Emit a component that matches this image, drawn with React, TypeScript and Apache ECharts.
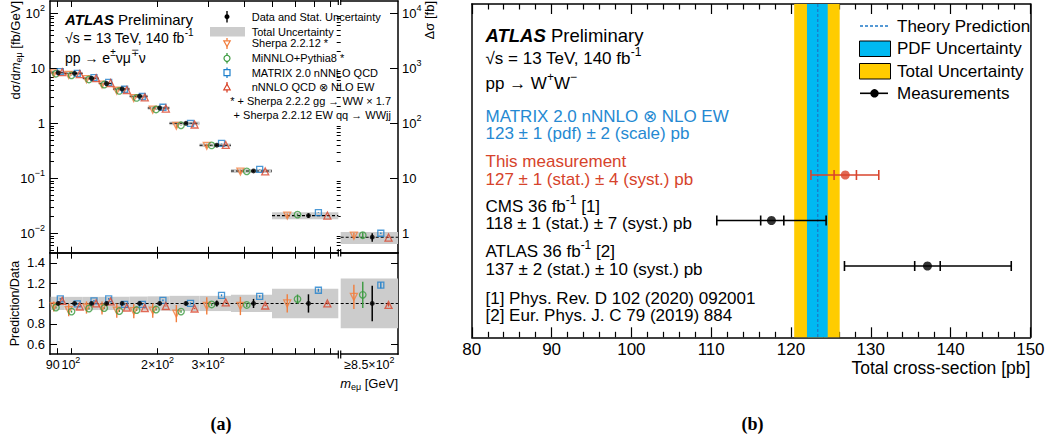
import React, { useEffect, useRef } from "react";
import * as echarts from "echarts";

const FONT = "'Liberation Sans', Arial, Helvetica, sans-serif";
const SERIF = "'Liberation Serif', 'Times New Roman', serif";

// ===== Panel (a): differential cross-section vs m_eμ =====
const binEdges = [85, 95, 110, 125, 140, 160, 185, 220, 280, 360, 500, 850]; // GeV
const dataXsec = [8.3, 8.1, 6.6, 5.3, 4.2, 3.1, 1.9, 1.0, 0.4, 0.136, 0.021]; // fb/GeV
const overflowXsec = 0.85; // fb, m_eμ >= 850 GeV (right axis)
const dataStatRel = [0.012, 0.012, 0.012, 0.012, 0.012, 0.015, 0.018, 0.02, 0.03, 0.045, 0.09, 0.175];
const totalUncRel = [0.065, 0.065, 0.065, 0.065, 0.065, 0.068, 0.07, 0.075, 0.075, 0.085, 0.145, 0.245];

const ratioSherpa = [0.97, 0.935, 0.96, 0.955, 0.93, 0.925, 0.93, 0.9, 0.975, 0.975, 1.0, 1.065];
const errSherpa = [0.05, 0.06, 0.06, 0.065, 0.07, 0.07, 0.07, 0.085, 0.085, 0.09, 0.09, 0.12];
const ratioMinnlo = [0.96, 0.92, 0.95, 0.955, 0.925, 0.935, 0.94, 0.92, 0.99, 0.985, 1.043, 1.085];
const errMinnlo = [0.01, 0.01, 0.01, 0.01, 0.01, 0.01, 0.01, 0.012, 0.015, 0.02, 0.045, 0.13];
const ratioMatrix = [1.045, 0.995, 1.025, 1.045, 0.99, 0.99, 1.03, 1.0, 1.08, 1.07, 1.13, 1.18];
const errMatrix = [0.008, 0.008, 0.008, 0.008, 0.008, 0.008, 0.008, 0.01, 0.01, 0.01, 0.015, 0.03];
const ratioNnlo = [1.025, 0.97, 1.0, 1.02, 0.96, 0.955, 0.975, 0.95, 1.01, 0.98, 1.0, 0.985];
const errNnlo = [0.005, 0.005, 0.005, 0.005, 0.005, 0.005, 0.005, 0.006, 0.006, 0.008, 0.01, 0.015];

const xLabelValues = [100, 200, 300];
const xLabelLow = [90];
const xTickValues = [90, 100, 200, 300, 400, 500, 600, 700, 800];
const ratioTickValues = [0.6, 0.8, 1, 1.2, 1.4];
const logMajorLeft = [0.01, 0.1, 1, 10, 100];
const logMajorRight = [1, 10, 100, 1000, 10000];

// ===== Panel (b): total cross-section =====
const theoryCentral = 123.35;
const pdfBand = [122.0, 124.6];
const totalBand = [120.4, 126.1];
const measCentral = [126.8, 117.55, 137.1];
const measStat = [[125.4, 128.2], [116.2, 119.1], [135.5, 138.7]];
const measTotal = [[122.5, 131.0], [110.7, 124.4], [126.7, 147.6]];
const measRow = [3, 2, 1];
const measColors = ["#d9442c", "#000000", "#000000"];

// ===== layout / style =====
const C_ORANGE = "#f27d3c";
const C_GREEN = "#3a9a3e";
const C_BLUE = "#1f80cc";
const C_RED = "#d9442a";
const C_GREY = "#cccccc";
const C_YELLOW = "#ffcc00";
const C_CYAN = "#00b9f1";
const C_THEORY = "#1e78c8";
const C_TXTBLUE = "#2589d2";
const C_TXTRED = "#d6432b";

const models = [
  { color: C_ORANGE, symbol: "triangle", rotate: 180, ratio: ratioSherpa, err: errSherpa, frac: 0.23, size: 7 },
  { color: C_GREEN, symbol: "circle", rotate: 0, ratio: ratioMinnlo, err: errMinnlo, frac: 0.385, size: 6.5 },
  { color: C_BLUE, symbol: "rect", rotate: 0, ratio: ratioMatrix, err: errMatrix, frac: 0.7, size: 6 },
  { color: C_RED, symbol: "triangle", rotate: 0, ratio: ratioNnlo, err: errNnlo, frac: 0.835, size: 7 },
];
const dataFrac = 0.55;

const yMinL = 0.00444;
const yMaxL = 167.3;
const rightScale = 100;

const pos = (i: number, f: number) => binEdges[i] * Math.pow(binEdges[i + 1] / binEdges[i], f);

function minorLog(min: number, max: number) {
  const out: number[] = [];
  for (let e = -4; e <= 5; e++) {
    for (let k = 2; k <= 9; k++) {
      const v = k * Math.pow(10, e);
      if (v > min && v < max) out.push(v);
    }
  }
  return out;
}

const supRich = (fs: number, color = "#000") => {
  const hs = Math.max(1, Math.round(fs * 0.24));
  const hb = Math.max(1, Math.round(fs * 0.42));
  return {
    sup: { fontSize: Math.round(fs * 0.68), verticalAlign: "top", height: hs, lineHeight: hs, fontFamily: FONT, color },
    sub: { fontSize: Math.round(fs * 0.68), verticalAlign: "bottom", height: hb, lineHeight: hb, fontFamily: FONT, color },
    it: { fontStyle: "italic", fontSize: fs, fontFamily: FONT, color, lineHeight: Math.round(fs) },
    b: { fontStyle: "italic", fontWeight: "bold", fontSize: fs, fontFamily: FONT, color, lineHeight: Math.round(fs) },
    l: { fontSize: fs, fontFamily: FONT, color, padding: [0, 10, 0, 0], lineHeight: Math.round(fs) },
  };
};

function txt(x: number, y: number, text: string, fs: number, o: any = {}) {
  const color = o.color || "#000";
  const align = o.align || "left";
  const va = o.va || "middle";
  return {
    type: "text",
    x,
    y,
    rotation: o.rotation || 0,
    silent: true,
    z: 100,
    style: {
      text,
      fill: color,
      fontSize: fs,
      fontFamily: o.family || FONT,
      fontWeight: o.weight || "normal",
      align,
      verticalAlign: va,
      textAlign: align,
      textVerticalAlign: va,
      lineHeight: Math.round(fs),
      rich: supRich(fs, color),
    },
  };
}

const powLabel = (v: number) => {
  const e = Math.round(Math.log10(v));
  if (e === 0) return "1";
  if (e === 1) return "10";
  return "10{sup|" + (e < 0 ? "\u2212" + -e : String(e)) + "}";
};

const axLine = { show: true, onZero: false, lineStyle: { color: "#000", width: 1.5 } };
const noLine = { show: false };
const noLabel = { show: false };
const noSplit = { show: false };

function bandRender(fill: string) {
  return (p: any, api: any) => {
    const a = api.coord([api.value(0), api.value(3)]);
    const b = api.coord([api.value(1), api.value(2)]);
    return { type: "rect", shape: { x: a[0], y: a[1], width: b[0] - a[0], height: b[1] - a[1] }, style: { fill } };
  };
}
function hDashRender(p: any, api: any) {
  const a = api.coord([api.value(0), api.value(2)]);
  const b = api.coord([api.value(1), api.value(2)]);
  return { type: "line", shape: { x1: a[0], y1: a[1], x2: b[0], y2: b[1] }, style: { stroke: "#000", lineWidth: 1.1, lineDash: [3, 2] } };
}
function vBarRender(color: string, w: number) {
  return (p: any, api: any) => {
    const a = api.coord([api.value(0), api.value(1)]);
    const b = api.coord([api.value(0), api.value(2)]);
    return { type: "line", shape: { x1: a[0], y1: a[1], x2: b[0], y2: b[1] }, style: { stroke: color, lineWidth: w } };
  };
}

function bandSeries(xi: number, yi: number, items: number[][]) {
  return { type: "custom", xAxisIndex: xi, yAxisIndex: yi, silent: true, z: 1, encode: { x: [0, 1], y: [2, 3] }, data: items, renderItem: bandRender(C_GREY) };
}
function dashSeries(xi: number, yi: number, items: number[][]) {
  return { type: "custom", xAxisIndex: xi, yAxisIndex: yi, silent: true, z: 2, encode: { x: [0, 1], y: 2 }, data: items, renderItem: hDashRender };
}
function barSeries(xi: number, yi: number, items: number[][], color: string, w: number) {
  return { type: "custom", xAxisIndex: xi, yAxisIndex: yi, silent: true, z: 3, encode: { x: 0, y: [1, 2] }, data: items, renderItem: vBarRender(color, w) };
}
function markerSeries(xi: number, yi: number, items: number[][], m: any, filled = false) {
  return {
    type: "scatter",
    xAxisIndex: xi,
    yAxisIndex: yi,
    silent: true,
    z: 4,
    symbol: m.symbol,
    symbolSize: m.size,
    symbolRotate: m.rotate,
    data: items,
    emphasis: { disabled: true },
    itemStyle: filled ? { color: m.color } : { color: "rgba(0,0,0,0)", borderColor: m.color, borderWidth: 1.3 },
  };
}

function buildOption() {
  const nMain = dataXsec.length;
  const OV = nMain; // overflow index in 12-long arrays
  const series: any[] = [];

  // grey total-uncertainty bands
  series.push(bandSeries(0, 0, dataXsec.map((d, i) => [binEdges[i], binEdges[i + 1], d * (1 - totalUncRel[i]), d * (1 + totalUncRel[i])])));
  series.push(bandSeries(2, 2, [[0, 1, overflowXsec * (1 - totalUncRel[OV]), overflowXsec * (1 + totalUncRel[OV])]]));
  series.push(bandSeries(4, 4, dataXsec.map((d, i) => [binEdges[i], binEdges[i + 1], 1 - totalUncRel[i], 1 + totalUncRel[i]])));
  series.push(bandSeries(6, 5, [[0, 1, 1 - totalUncRel[OV], 1 + totalUncRel[OV]]]));

  // dashed data lines
  series.push(dashSeries(0, 0, dataXsec.map((d, i) => [binEdges[i], binEdges[i + 1], d])));
  series.push(dashSeries(2, 2, [[0, 1, overflowXsec]]));
  series.push(dashSeries(4, 4, [[binEdges[0], binEdges[nMain], 1]]));
  series.push(dashSeries(6, 5, [[0, 1, 1]]));

  // predictions
  models.forEach((m) => {
    const f = m.frac;
    const topPts = dataXsec.map((d, i) => [pos(i, f), d * m.ratio[i]]);
    const topBars = dataXsec.map((d, i) => [pos(i, f), d * m.ratio[i] * (1 - m.err[i]), d * m.ratio[i] * (1 + m.err[i])]);
    const ov = overflowXsec * m.ratio[OV];
    series.push(barSeries(0, 0, topBars, m.color, 1.4));
    series.push(markerSeries(0, 0, topPts, m));
    series.push(barSeries(2, 2, [[f, ov * (1 - m.err[OV]), ov * (1 + m.err[OV])]], m.color, 1.4));
    series.push(markerSeries(2, 2, [[f, ov]], m));
    const rPts = dataXsec.map((d, i) => [pos(i, f), m.ratio[i]]);
    const rBars = dataXsec.map((d, i) => [pos(i, f), m.ratio[i] - m.err[i], m.ratio[i] + m.err[i]]);
    series.push(barSeries(4, 4, rBars, m.color, 1.4));
    series.push(markerSeries(4, 4, rPts, m));
    series.push(barSeries(6, 5, [[f, m.ratio[OV] - m.err[OV], m.ratio[OV] + m.err[OV]]], m.color, 1.4));
    series.push(markerSeries(6, 5, [[f, m.ratio[OV]]], m));
  });

  // data
  const dm = { color: "#000", symbol: "circle", rotate: 0, size: 5 };
  series.push(barSeries(0, 0, dataXsec.map((d, i) => [pos(i, dataFrac), d * (1 - dataStatRel[i]), d * (1 + dataStatRel[i])]), "#000", 1.5));
  series.push(markerSeries(0, 0, dataXsec.map((d, i) => [pos(i, dataFrac), d]), dm, true));
  series.push(barSeries(2, 2, [[dataFrac, overflowXsec * (1 - dataStatRel[OV]), overflowXsec * (1 + dataStatRel[OV])]], "#000", 1.5));
  series.push(markerSeries(2, 2, [[dataFrac, overflowXsec]], dm, true));
  series.push(barSeries(4, 4, dataXsec.map((d, i) => [pos(i, dataFrac), 1 - dataStatRel[i], 1 + dataStatRel[i]]), "#000", 1.5));
  series.push(markerSeries(4, 4, dataXsec.map((d, i) => [pos(i, dataFrac), 1]), dm, true));
  series.push(barSeries(6, 5, [[dataFrac, 1 - dataStatRel[OV], 1 + dataStatRel[OV]]], "#000", 1.5));
  series.push(markerSeries(6, 5, [[dataFrac, 1]], dm, true));

  // ===== panel (b) series =====
  const fullBand = (fill: string) => (p: any, api: any) => {
    const cs = p.coordSys;
    const a = api.coord([api.value(0), 0])[0];
    const b = api.coord([api.value(1), 0])[0];
    return { type: "rect", shape: { x: a, y: cs.y, width: b - a, height: cs.height }, style: { fill } };
  };
  series.push({ type: "custom", xAxisIndex: 8, yAxisIndex: 6, silent: true, z: 1, encode: { x: [0, 1], y: 2 }, data: [[totalBand[0], totalBand[1], 0]], renderItem: fullBand(C_YELLOW) });
  series.push({ type: "custom", xAxisIndex: 8, yAxisIndex: 6, silent: true, z: 2, encode: { x: [0, 1], y: 2 }, data: [[pdfBand[0], pdfBand[1], 0]], renderItem: fullBand(C_CYAN) });
  series.push({
    type: "custom", xAxisIndex: 8, yAxisIndex: 6, silent: true, z: 3, encode: { x: 0, y: 1 }, data: [[theoryCentral, 0]],
    renderItem: (p: any, api: any) => {
      const cs = p.coordSys;
      const x = api.coord([api.value(0), 0])[0];
      return { type: "line", shape: { x1: x, y1: cs.y, x2: x, y2: cs.y + cs.height }, style: { stroke: C_THEORY, lineWidth: 1.3, lineDash: [3, 2] } };
    },
  });
  series.push({
    type: "custom", xAxisIndex: 8, yAxisIndex: 6, silent: true, z: 4, encode: { x: [0, 1, 2, 3], y: 4 },
    data: measRow.map((r, i) => [measTotal[i][0], measTotal[i][1], measStat[i][0], measStat[i][1], r]),
    renderItem: (p: any, api: any) => {
      const color = measColors[p.dataIndex];
      const r = api.value(4);
      const y = api.coord([api.value(0), r])[1];
      const xs = [0, 1, 2, 3].map((k) => api.coord([api.value(k), r])[0]);
      const st = { stroke: color, lineWidth: 1.6 };
      const cap = 5;
      const children: any[] = [{ type: "line", shape: { x1: xs[0], y1: y, x2: xs[1], y2: y }, style: st }];
      xs.forEach((x) => children.push({ type: "line", shape: { x1: x, y1: y - cap, x2: x, y2: y + cap }, style: st }));
      return { type: "group", children };
    },
  });
  series.push({
    type: "scatter", xAxisIndex: 8, yAxisIndex: 6, silent: true, z: 5, symbol: "circle", symbolSize: 9,
    emphasis: { disabled: true },
    data: measRow.map((r, i) => ({ value: [measCentral[i], r], itemStyle: { color: measColors[i] } })),
  });

  const minorLeft = minorLog(yMinL, yMaxL);
  const minorRight = minorLog(yMinL * rightScale, yMaxL * rightScale);
  const axisLabelBase = { color: "#000", fontFamily: FONT };

  const xAxis: any[] = [
    // 0: top main bottom
    { type: "log", gridIndex: 0, position: "bottom", min: 84.6, max: 850, axisLine: axLine, splitLine: noSplit, axisLabel: noLabel,
      axisTick: { show: true, inside: true, length: 6, customValues: xTickValues, lineStyle: { color: "#000" } } },
    // 1: top main top
    { type: "log", gridIndex: 0, position: "top", min: 84.6, max: 850, axisLine: axLine, splitLine: noSplit, axisLabel: noLabel,
      axisTick: { show: true, inside: true, length: 6, customValues: xTickValues, lineStyle: { color: "#000" } } },
    // 2: top overflow bottom
    { type: "value", gridIndex: 1, position: "bottom", min: 0, max: 1, axisLine: axLine, splitLine: noSplit, axisLabel: noLabel, axisTick: { show: false } },
    // 3: top overflow top
    { type: "value", gridIndex: 1, position: "top", min: 0, max: 1, axisLine: axLine, splitLine: noSplit, axisLabel: noLabel, axisTick: { show: false } },
    // 4: ratio main bottom
    { type: "log", gridIndex: 2, position: "bottom", min: 84.6, max: 850, axisLine: axLine, splitLine: noSplit,
      axisTick: { show: true, inside: true, length: 6, customValues: xTickValues, lineStyle: { color: "#000" } },
      axisLabel: { ...axisLabelBase, show: true, customValues: xLabelValues, fontSize: 12.5, margin: 4, lineHeight: 13, rich: supRich(12.5),
        showMinLabel: true, showMaxLabel: true,
        formatter: (v: number) => {
          const e = Math.floor(Math.log10(v) + 1e-9);
          const mant = Math.round(v / Math.pow(10, e));
          return (mant === 1 ? "" : mant + "\u00d7") + "10{sup|" + e + "}";
        } } },
    // 5: ratio main top
    { type: "log", gridIndex: 2, position: "top", min: 84.6, max: 850, axisLine: axLine, splitLine: noSplit, axisLabel: noLabel,
      axisTick: { show: true, inside: true, length: 6, customValues: xTickValues, lineStyle: { color: "#000" } } },
    // 6: ratio overflow bottom
    { type: "value", gridIndex: 3, position: "bottom", min: 0, max: 1, axisLine: axLine, splitLine: noSplit, axisTick: { show: false },
      axisLabel: { ...axisLabelBase, show: true, customValues: [0.5], fontSize: 12.5, margin: 4, lineHeight: 13, rich: supRich(12.5),
        showMinLabel: true, showMaxLabel: true,
        formatter: () => "\u22658.5\u00d710{sup|2}" } },
    // 7: ratio overflow top
    { type: "value", gridIndex: 3, position: "top", min: 0, max: 1, axisLine: axLine, splitLine: noSplit, axisLabel: noLabel, axisTick: { show: false } },
    // 8: panel b bottom
    { type: "value", gridIndex: 4, position: "bottom", min: 80, max: 150, interval: 10, axisLine: axLine, splitLine: noSplit, minorSplitLine: noSplit,
      axisTick: { show: true, inside: true, length: 10, lineStyle: { color: "#000", width: 1.2 } },
      minorTick: { show: true, splitNumber: 5, length: 5.5, lineStyle: { color: "#000", width: 1.2 } },
      axisLabel: { ...axisLabelBase, show: true, fontSize: 17, margin: 4 } },
    // 9: panel b top
    { type: "value", gridIndex: 4, position: "top", min: 80, max: 150, interval: 10, axisLine: axLine, splitLine: noSplit, minorSplitLine: noSplit, axisLabel: noLabel,
      axisTick: { show: true, inside: true, length: 10, lineStyle: { color: "#000", width: 1.2 } },
      minorTick: { show: true, splitNumber: 5, length: 5.5, lineStyle: { color: "#000", width: 1.2 } } },
    // 10: ratio main bottom, label for 90 only
    { type: "log", gridIndex: 2, position: "bottom", min: 84.6, max: 850, axisLine: noLine, splitLine: noSplit, axisTick: { show: false },
      axisLabel: { ...axisLabelBase, show: true, customValues: xLabelLow, fontSize: 12.5, margin: 4, lineHeight: 13, rich: supRich(12.5),
        showMinLabel: true, formatter: (v: number) => "{l|" + String(Math.round(v)) + "}" } },
  ];

  const yAxis: any[] = [
    // 0: top left log major + labels
    { type: "log", gridIndex: 0, position: "left", min: yMinL, max: yMaxL, axisLine: axLine, splitLine: noSplit,
      axisTick: { show: true, inside: true, length: 8, customValues: logMajorLeft, lineStyle: { color: "#000" } },
      axisLabel: { ...axisLabelBase, show: true, customValues: logMajorLeft, fontSize: 13, margin: 5, lineHeight: 13, rich: supRich(13), formatter: powLabel } },
    // 1: top left minor ticks
    { type: "log", gridIndex: 0, position: "left", min: yMinL, max: yMaxL, axisLine: noLine, splitLine: noSplit, axisLabel: noLabel,
      axisTick: { show: true, inside: true, length: 4, customValues: minorLeft, lineStyle: { color: "#000" } } },
    // 2: top right log (Δσ) major + labels
    { type: "log", gridIndex: 1, position: "right", min: yMinL * rightScale, max: yMaxL * rightScale, axisLine: axLine, splitLine: noSplit,
      axisTick: { show: true, inside: true, length: 8, customValues: logMajorRight, lineStyle: { color: "#000" } },
      axisLabel: { ...axisLabelBase, show: true, customValues: logMajorRight, fontSize: 13, margin: 4, lineHeight: 13, rich: supRich(13), formatter: powLabel } },
    // 3: top right minor
    { type: "log", gridIndex: 1, position: "right", min: yMinL * rightScale, max: yMaxL * rightScale, axisLine: noLine, splitLine: noSplit, axisLabel: noLabel,
      axisTick: { show: true, inside: true, length: 4, customValues: minorRight, lineStyle: { color: "#000" } } },
    // 4: ratio left
    { type: "value", gridIndex: 2, position: "left", min: 0.5, max: 1.5, axisLine: axLine, splitLine: noSplit,
      axisTick: { show: true, inside: true, length: 7, customValues: ratioTickValues, lineStyle: { color: "#000" } },
      axisLabel: { ...axisLabelBase, show: true, customValues: ratioTickValues, fontSize: 13, margin: 5, formatter: (v: number) => String(v) } },
    // 5: ratio right (overflow)
    { type: "value", gridIndex: 3, position: "right", min: 0.5, max: 1.5, axisLine: axLine, splitLine: noSplit, axisLabel: noLabel,
      axisTick: { show: true, inside: true, length: 7, customValues: ratioTickValues, lineStyle: { color: "#000" } } },
    // 6: panel b left
    { type: "value", gridIndex: 4, position: "left", min: -0.567, max: 6.758, axisLine: axLine, splitLine: noSplit, axisLabel: noLabel, axisTick: { show: false } },
    // 7: panel b right
    { type: "value", gridIndex: 4, position: "right", min: -0.567, max: 6.758, axisLine: axLine, splitLine: noSplit, axisLabel: noLabel, axisTick: { show: false } },
  ];

  const gridBase = { containLabel: false, outerBoundsMode: "none" };
  const grid = [
    { ...gridBase, left: 50, top: 1, width: 288.3, height: 251.7 },
    { ...gridBase, left: 340.7, top: 1, width: 57.3, height: 251.7 },
    { ...gridBase, left: 50, top: 252.7, width: 288.3, height: 101.5 },
    { ...gridBase, left: 340.7, top: 252.7, width: 57.3, height: 101.5 },
    { ...gridBase, left: 471.8, top: 4, width: 558.6, height: 333.3 },
  ];

  const ln = (x1: number, y1: number, x2: number, y2: number, stroke: string, w = 1.3, dash: any = null) => ({
    type: "line", silent: true, z: 100, shape: { x1, y1, x2, y2 }, style: { stroke, lineWidth: w, lineDash: dash },
  });

  const graphic: any[] = [
    // break marks
    ln(338.3, -2, 338.3, 5, "#000", 1.2), ln(340.7, -2, 340.7, 5, "#000", 1.2),
    ln(338.3, 249, 338.3, 256.5, "#000", 1.2), ln(340.7, 249, 340.7, 256.5, "#000", 1.2),
    ln(338.3, 350.5, 338.3, 358.5, "#000", 1.2), ln(340.7, 350.5, 340.7, 358.5, "#000", 1.2),
    // panel (a) texts
    txt(65, 19, "{b|ATLAS} Preliminary", 15),
    txt(65, 37.5, "\u221As = 13 TeV, 140 fb{sup|-1}", 14),
    txt(65, 57.5, "pp \u2192 e{sup|\u00b1}\u03bd\u03bc{sup|\u2213}\u03bd", 14),
    // panel (a) legend
    ln(227, 11, 227, 22.5, "#000", 1.4),
    { type: "circle", silent: true, z: 100, shape: { cx: 227, cy: 16.7, r: 2.5 }, style: { fill: "#000" } },
    txt(251.7, 16.7, "Data and Stat. Uncertainty", 11),
    { type: "rect", silent: true, z: 100, shape: { x: 210, y: 27, width: 35, height: 9.5 }, style: { fill: C_GREY } },
    txt(251.7, 31.7, "Total Uncertainty", 11),
    ln(227, 38, 227, 49, C_ORANGE, 1.3),
    { type: "polygon", silent: true, z: 100, shape: { points: [[223.8, 40.8], [230.2, 40.8], [227, 46.5]] }, style: { fill: "#fff", stroke: C_ORANGE, lineWidth: 1.2 } },
    txt(251.7, 43.3, "Sherpa 2.2.12 *", 11),
    ln(227, 53, 227, 63.5, C_GREEN, 1.3),
    { type: "circle", silent: true, z: 100, shape: { cx: 227, cy: 58.3, r: 3 }, style: { fill: "#fff", stroke: C_GREEN, lineWidth: 1.2 } },
    txt(251.7, 58.3, "MiNNLO+Pythia8 *", 11),
    ln(227, 67.5, 227, 78, C_BLUE, 1.3),
    { type: "rect", silent: true, z: 100, shape: { x: 224, y: 69.7, width: 6, height: 6 }, style: { fill: "#fff", stroke: C_BLUE, lineWidth: 1.2 } },
    txt(251.7, 72.7, "MATRIX 2.0 nNNLO QCD", 11),
    ln(227, 82, 227, 92.5, C_RED, 1.3),
    { type: "polygon", silent: true, z: 100, shape: { points: [[223.8, 89.8], [230.2, 89.8], [227, 84.2]] }, style: { fill: "#fff", stroke: C_RED, lineWidth: 1.2 } },
    txt(251.7, 87.3, "nNNLO QCD \u2297 NLO EW", 11),
    txt(391, 100.7, "* + Sherpa 2.2.2 gg \u2192 WW \u00d7 1.7", 11, { align: "right" }),
    txt(391, 115, "+ Sherpa 2.2.12 EW qq \u2192 WWjj", 11, { align: "right" }),
    // panel (a) axis titles
    txt(15, 1, "d\u03c3/d{it|m}{sub|e\u03bc} [fb/GeV]", 13, { align: "right", rotation: Math.PI / 2 }),
    txt(15, 303.5, "Prediction/Data", 12.5, { align: "center", rotation: Math.PI / 2 }),
    txt(429, 1, "\u0394\u03c3 [fb]", 13, { align: "right", rotation: Math.PI / 2 }),
    txt(398, 383, "{it|m}{sub|e\u03bc} [GeV]", 13, { align: "right" }),
    txt(221, 424, "(a)", 18, { align: "center", weight: "bold", family: SERIF }),
    txt(752.5, 424, "(b)", 18, { align: "center", weight: "bold", family: SERIF }),
    // panel (b) texts
    txt(485.5, 35, "{b|ATLAS} Preliminary", 18.5),
    txt(485.5, 58.3, "\u221As = 13 TeV, 140 fb{sup|-1}", 17),
    txt(485.5, 83.3, "pp \u2192 W{sup|+}W{sup|\u2212}", 17),
    txt(485.5, 116.3, "MATRIX 2.0 nNNLO \u2297 NLO EW", 17, { color: C_TXTBLUE }),
    txt(485.5, 133.5, "123 \u00b1 1 (pdf) \u00b1 2 (scale) pb", 17, { color: C_TXTBLUE }),
    txt(485.5, 161.3, "This measurement", 17, { color: C_TXTRED }),
    txt(485.5, 179, "127 \u00b1 1 (stat.) \u00b1 4 (syst.) pb", 17, { color: C_TXTRED }),
    txt(485.5, 206.3, "CMS 36 fb{sup|-1} [1]", 17),
    txt(485.5, 223.5, "118 \u00b1 1 (stat.) \u00b1 7 (syst.) pb", 17),
    txt(485.5, 251.5, "ATLAS 36 fb{sup|-1} [2]", 17),
    txt(485.5, 269.3, "137 \u00b1 2 (stat.) \u00b1 10 (syst.) pb", 17),
    txt(485.5, 298.2, "[1] Phys. Rev. D 102 (2020) 092001", 17),
    txt(485.5, 315.4, "[2] Eur. Phys. J. C 79 (2019) 884", 17),
    txt(1030.4, 368.3, "Total cross-section [pb]", 17.5, { align: "right" }),
    // panel (b) legend
    ln(860, 26, 888, 26, C_THEORY, 1.5, [3, 2]),
    txt(897, 26, "Theory Prediction", 17),
    { type: "rect", silent: true, z: 100, shape: { x: 859.5, y: 41, width: 31, height: 15.5 }, style: { fill: C_CYAN, stroke: "#000", lineWidth: 1 } },
    txt(897, 48.5, "PDF Uncertainty", 17),
    { type: "rect", silent: true, z: 100, shape: { x: 859.5, y: 63.5, width: 31, height: 15.5 }, style: { fill: C_YELLOW, stroke: "#000", lineWidth: 1 } },
    txt(897, 71, "Total Uncertainty", 17),
    ln(860, 93.3, 888, 93.3, "#000", 1.6),
    { type: "circle", silent: true, z: 100, shape: { cx: 874.5, cy: 93.3, r: 4.2 }, style: { fill: "#000" } },
    txt(897, 93.3, "Measurements", 17),
  ];

  return { animation: false, backgroundColor: "#ffffff", grid, xAxis, yAxis, series, graphic };
}

export default function App() {
  const ref = useRef<HTMLDivElement>(null);
  useEffect(() => {
    const chart = echarts.init(ref.current as HTMLDivElement, null, { renderer: "svg" });
    chart.setOption(buildOption() as any);
    return () => chart.dispose();
  }, []);
  return <div ref={ref} style={{ position: "absolute", left: 0, top: 0, width: 1049, height: 441, background: "#fff" }} />;
}
